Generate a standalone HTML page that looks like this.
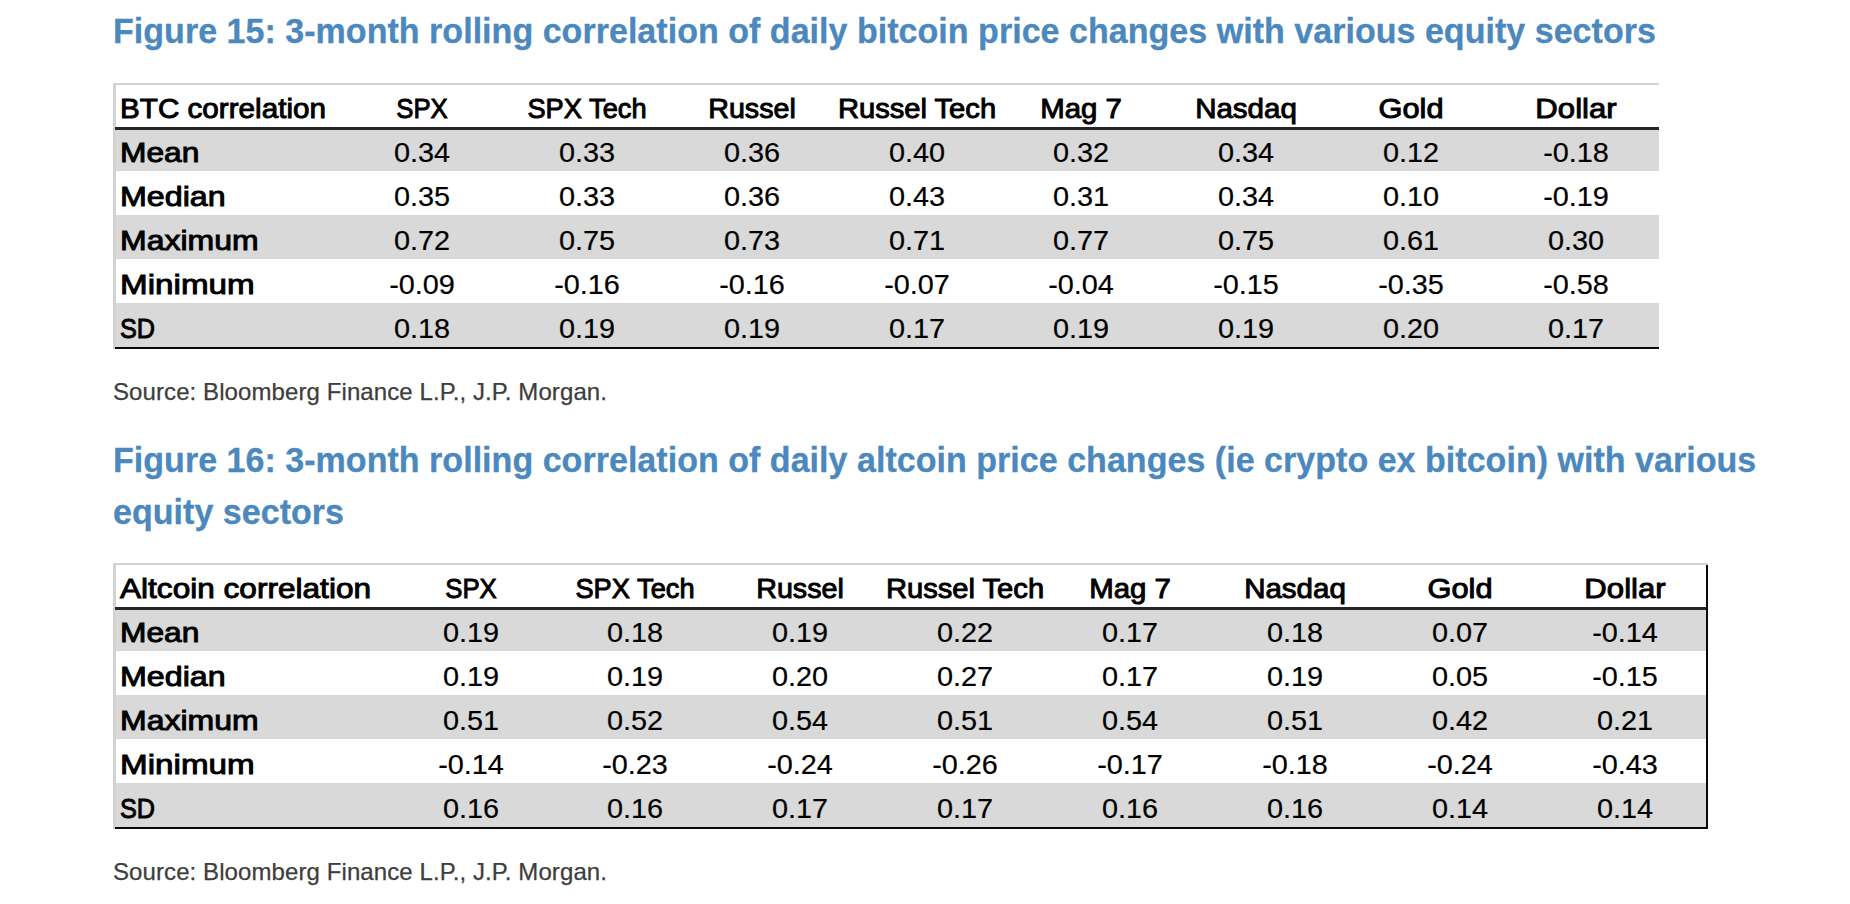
<!DOCTYPE html>
<html><head><meta charset="utf-8"><style>
html,body{margin:0;padding:0;background:#fff;}
body{width:1850px;height:904px;position:relative;overflow:hidden;font-family:"Liberation Sans",sans-serif;}
.h{position:absolute;left:113px;letter-spacing:0.03px;font-weight:bold;font-size:35.5px;transform-origin:0 0;transform:scaleX(0.958);color:#4b88be;white-space:nowrap;-webkit-text-stroke:0.3px #4b88be;}
.s{position:absolute;left:113px;letter-spacing:0.09px;font-size:24px;line-height:24px;color:#3d3d3d;white-space:nowrap;-webkit-text-stroke:0.25px #3d3d3d;}
.f{position:absolute;background:#d9d9d9;}
.lb{position:absolute;background:#d2d2d2;}
.dl{position:absolute;background:#262626;}
.bl{position:absolute;background:#0a0a0a;}
.t{position:absolute;font-size:28px;line-height:28px;color:#000;white-space:nowrap;transform-origin:0 0;}
.t.c{transform-origin:50% 0;}
.r{-webkit-text-stroke:0.2px #000;}
.b{font-weight:normal;-webkit-text-stroke:0.95px #000;}
</style></head><body>
<div class="h" style="top:13.9px;line-height:34px">Figure 15: 3-month rolling correlation of daily bitcoin price changes with various equity sectors</div>
<div class="f" style="left:113px;top:129px;width:1546px;height:41.5px"></div>
<div class="f" style="left:113px;top:215px;width:1546px;height:43.5px"></div>
<div class="f" style="left:113px;top:303px;width:1546px;height:43.5px"></div>
<div class="lb" style="left:113px;top:83px;width:1546px;height:2px"></div>
<div class="lb" style="left:113px;top:83px;width:2.5px;height:266px"></div>
<div class="dl" style="left:115px;top:127px;width:1544px;height:2.5px"></div>
<div class="bl" style="left:115px;top:346.5px;width:1544px;height:2.5px"></div>
<div class="t b" style="left:120.0px;top:95.2px;transform:scaleX(1.059)">BTC correlation</div>
<div class="t b c" style="left:422.0px;top:95.2px;transform:translateX(-50%) scaleX(0.92)">SPX</div>
<div class="t b c" style="left:586.9px;top:95.2px;transform:translateX(-50%) scaleX(0.973)">SPX Tech</div>
<div class="t b c" style="left:751.7px;top:95.2px;transform:translateX(-50%) scaleX(1.023)">Russel</div>
<div class="t b c" style="left:916.5px;top:95.2px;transform:translateX(-50%) scaleX(1.041)">Russel Tech</div>
<div class="t b c" style="left:1081.4px;top:95.2px;transform:translateX(-50%) scaleX(1.05)">Mag 7</div>
<div class="t b c" style="left:1246.2px;top:95.2px;transform:translateX(-50%) scaleX(1.054)">Nasdaq</div>
<div class="t b c" style="left:1411.1px;top:95.2px;transform:translateX(-50%) scaleX(1.1)">Gold</div>
<div class="t b c" style="left:1576.0px;top:95.2px;transform:translateX(-50%) scaleX(1.111)">Dollar</div>
<div class="t b" style="left:120.0px;top:139.2px;transform:scaleX(1.133)">Mean</div>
<div class="t r c" style="left:422.0px;top:139.2px;transform:translateX(-50%) scaleX(1.03)">0.34</div>
<div class="t r c" style="left:586.9px;top:139.2px;transform:translateX(-50%) scaleX(1.03)">0.33</div>
<div class="t r c" style="left:751.7px;top:139.2px;transform:translateX(-50%) scaleX(1.03)">0.36</div>
<div class="t r c" style="left:916.5px;top:139.2px;transform:translateX(-50%) scaleX(1.03)">0.40</div>
<div class="t r c" style="left:1081.4px;top:139.2px;transform:translateX(-50%) scaleX(1.03)">0.32</div>
<div class="t r c" style="left:1246.2px;top:139.2px;transform:translateX(-50%) scaleX(1.03)">0.34</div>
<div class="t r c" style="left:1411.1px;top:139.2px;transform:translateX(-50%) scaleX(1.03)">0.12</div>
<div class="t r c" style="left:1576.0px;top:139.2px;transform:translateX(-50%) scaleX(1.03)">-0.18</div>
<div class="t b" style="left:120.0px;top:183.2px;transform:scaleX(1.151)">Median</div>
<div class="t r c" style="left:422.0px;top:183.2px;transform:translateX(-50%) scaleX(1.03)">0.35</div>
<div class="t r c" style="left:586.9px;top:183.2px;transform:translateX(-50%) scaleX(1.03)">0.33</div>
<div class="t r c" style="left:751.7px;top:183.2px;transform:translateX(-50%) scaleX(1.03)">0.36</div>
<div class="t r c" style="left:916.5px;top:183.2px;transform:translateX(-50%) scaleX(1.03)">0.43</div>
<div class="t r c" style="left:1081.4px;top:183.2px;transform:translateX(-50%) scaleX(1.03)">0.31</div>
<div class="t r c" style="left:1246.2px;top:183.2px;transform:translateX(-50%) scaleX(1.03)">0.34</div>
<div class="t r c" style="left:1411.1px;top:183.2px;transform:translateX(-50%) scaleX(1.03)">0.10</div>
<div class="t r c" style="left:1576.0px;top:183.2px;transform:translateX(-50%) scaleX(1.03)">-0.19</div>
<div class="t b" style="left:120.0px;top:227.2px;transform:scaleX(1.142)">Maximum</div>
<div class="t r c" style="left:422.0px;top:227.2px;transform:translateX(-50%) scaleX(1.03)">0.72</div>
<div class="t r c" style="left:586.9px;top:227.2px;transform:translateX(-50%) scaleX(1.03)">0.75</div>
<div class="t r c" style="left:751.7px;top:227.2px;transform:translateX(-50%) scaleX(1.03)">0.73</div>
<div class="t r c" style="left:916.5px;top:227.2px;transform:translateX(-50%) scaleX(1.03)">0.71</div>
<div class="t r c" style="left:1081.4px;top:227.2px;transform:translateX(-50%) scaleX(1.03)">0.77</div>
<div class="t r c" style="left:1246.2px;top:227.2px;transform:translateX(-50%) scaleX(1.03)">0.75</div>
<div class="t r c" style="left:1411.1px;top:227.2px;transform:translateX(-50%) scaleX(1.03)">0.61</div>
<div class="t r c" style="left:1576.0px;top:227.2px;transform:translateX(-50%) scaleX(1.03)">0.30</div>
<div class="t b" style="left:120.0px;top:271.2px;transform:scaleX(1.186)">Minimum</div>
<div class="t r c" style="left:422.0px;top:271.2px;transform:translateX(-50%) scaleX(1.03)">-0.09</div>
<div class="t r c" style="left:586.9px;top:271.2px;transform:translateX(-50%) scaleX(1.03)">-0.16</div>
<div class="t r c" style="left:751.7px;top:271.2px;transform:translateX(-50%) scaleX(1.03)">-0.16</div>
<div class="t r c" style="left:916.5px;top:271.2px;transform:translateX(-50%) scaleX(1.03)">-0.07</div>
<div class="t r c" style="left:1081.4px;top:271.2px;transform:translateX(-50%) scaleX(1.03)">-0.04</div>
<div class="t r c" style="left:1246.2px;top:271.2px;transform:translateX(-50%) scaleX(1.03)">-0.15</div>
<div class="t r c" style="left:1411.1px;top:271.2px;transform:translateX(-50%) scaleX(1.03)">-0.35</div>
<div class="t r c" style="left:1576.0px;top:271.2px;transform:translateX(-50%) scaleX(1.03)">-0.58</div>
<div class="t b" style="left:120.0px;top:315.2px;transform:scaleX(0.9)">SD</div>
<div class="t r c" style="left:422.0px;top:315.2px;transform:translateX(-50%) scaleX(1.03)">0.18</div>
<div class="t r c" style="left:586.9px;top:315.2px;transform:translateX(-50%) scaleX(1.03)">0.19</div>
<div class="t r c" style="left:751.7px;top:315.2px;transform:translateX(-50%) scaleX(1.03)">0.19</div>
<div class="t r c" style="left:916.5px;top:315.2px;transform:translateX(-50%) scaleX(1.03)">0.17</div>
<div class="t r c" style="left:1081.4px;top:315.2px;transform:translateX(-50%) scaleX(1.03)">0.19</div>
<div class="t r c" style="left:1246.2px;top:315.2px;transform:translateX(-50%) scaleX(1.03)">0.19</div>
<div class="t r c" style="left:1411.1px;top:315.2px;transform:translateX(-50%) scaleX(1.03)">0.20</div>
<div class="t r c" style="left:1576.0px;top:315.2px;transform:translateX(-50%) scaleX(1.03)">0.17</div>
<div class="s" style="top:379.5px">Source: Bloomberg Finance L.P., J.P. Morgan.</div>
<div class="h" style="top:433.6px;line-height:52px">Figure 16: 3-month rolling correlation of daily altcoin price changes (ie crypto ex bitcoin) with various<br>equity sectors</div>
<div class="f" style="left:113px;top:609px;width:1595px;height:41.5px"></div>
<div class="f" style="left:113px;top:695px;width:1595px;height:43.5px"></div>
<div class="f" style="left:113px;top:783px;width:1595px;height:43.5px"></div>
<div class="lb" style="left:113px;top:563px;width:1595px;height:2px"></div>
<div class="lb" style="left:113px;top:563px;width:2.5px;height:266px"></div>
<div class="dl" style="left:115px;top:607px;width:1593px;height:2.5px"></div>
<div class="bl" style="left:115px;top:826.5px;width:1593px;height:2.5px"></div>
<div class="bl" style="left:1705.5px;top:565px;width:2.5px;height:264px"></div>
<div class="t b" style="left:120.0px;top:575.2px;transform:scaleX(1.128)">Altcoin correlation</div>
<div class="t b c" style="left:470.5px;top:575.2px;transform:translateX(-50%) scaleX(0.92)">SPX</div>
<div class="t b c" style="left:635.4px;top:575.2px;transform:translateX(-50%) scaleX(0.973)">SPX Tech</div>
<div class="t b c" style="left:800.2px;top:575.2px;transform:translateX(-50%) scaleX(1.023)">Russel</div>
<div class="t b c" style="left:965.0px;top:575.2px;transform:translateX(-50%) scaleX(1.041)">Russel Tech</div>
<div class="t b c" style="left:1129.9px;top:575.2px;transform:translateX(-50%) scaleX(1.05)">Mag 7</div>
<div class="t b c" style="left:1294.8px;top:575.2px;transform:translateX(-50%) scaleX(1.054)">Nasdaq</div>
<div class="t b c" style="left:1459.6px;top:575.2px;transform:translateX(-50%) scaleX(1.1)">Gold</div>
<div class="t b c" style="left:1624.5px;top:575.2px;transform:translateX(-50%) scaleX(1.111)">Dollar</div>
<div class="t b" style="left:120.0px;top:619.2px;transform:scaleX(1.133)">Mean</div>
<div class="t r c" style="left:470.5px;top:619.2px;transform:translateX(-50%) scaleX(1.03)">0.19</div>
<div class="t r c" style="left:635.4px;top:619.2px;transform:translateX(-50%) scaleX(1.03)">0.18</div>
<div class="t r c" style="left:800.2px;top:619.2px;transform:translateX(-50%) scaleX(1.03)">0.19</div>
<div class="t r c" style="left:965.0px;top:619.2px;transform:translateX(-50%) scaleX(1.03)">0.22</div>
<div class="t r c" style="left:1129.9px;top:619.2px;transform:translateX(-50%) scaleX(1.03)">0.17</div>
<div class="t r c" style="left:1294.8px;top:619.2px;transform:translateX(-50%) scaleX(1.03)">0.18</div>
<div class="t r c" style="left:1459.6px;top:619.2px;transform:translateX(-50%) scaleX(1.03)">0.07</div>
<div class="t r c" style="left:1624.5px;top:619.2px;transform:translateX(-50%) scaleX(1.03)">-0.14</div>
<div class="t b" style="left:120.0px;top:663.2px;transform:scaleX(1.151)">Median</div>
<div class="t r c" style="left:470.5px;top:663.2px;transform:translateX(-50%) scaleX(1.03)">0.19</div>
<div class="t r c" style="left:635.4px;top:663.2px;transform:translateX(-50%) scaleX(1.03)">0.19</div>
<div class="t r c" style="left:800.2px;top:663.2px;transform:translateX(-50%) scaleX(1.03)">0.20</div>
<div class="t r c" style="left:965.0px;top:663.2px;transform:translateX(-50%) scaleX(1.03)">0.27</div>
<div class="t r c" style="left:1129.9px;top:663.2px;transform:translateX(-50%) scaleX(1.03)">0.17</div>
<div class="t r c" style="left:1294.8px;top:663.2px;transform:translateX(-50%) scaleX(1.03)">0.19</div>
<div class="t r c" style="left:1459.6px;top:663.2px;transform:translateX(-50%) scaleX(1.03)">0.05</div>
<div class="t r c" style="left:1624.5px;top:663.2px;transform:translateX(-50%) scaleX(1.03)">-0.15</div>
<div class="t b" style="left:120.0px;top:707.2px;transform:scaleX(1.142)">Maximum</div>
<div class="t r c" style="left:470.5px;top:707.2px;transform:translateX(-50%) scaleX(1.03)">0.51</div>
<div class="t r c" style="left:635.4px;top:707.2px;transform:translateX(-50%) scaleX(1.03)">0.52</div>
<div class="t r c" style="left:800.2px;top:707.2px;transform:translateX(-50%) scaleX(1.03)">0.54</div>
<div class="t r c" style="left:965.0px;top:707.2px;transform:translateX(-50%) scaleX(1.03)">0.51</div>
<div class="t r c" style="left:1129.9px;top:707.2px;transform:translateX(-50%) scaleX(1.03)">0.54</div>
<div class="t r c" style="left:1294.8px;top:707.2px;transform:translateX(-50%) scaleX(1.03)">0.51</div>
<div class="t r c" style="left:1459.6px;top:707.2px;transform:translateX(-50%) scaleX(1.03)">0.42</div>
<div class="t r c" style="left:1624.5px;top:707.2px;transform:translateX(-50%) scaleX(1.03)">0.21</div>
<div class="t b" style="left:120.0px;top:751.2px;transform:scaleX(1.186)">Minimum</div>
<div class="t r c" style="left:470.5px;top:751.2px;transform:translateX(-50%) scaleX(1.03)">-0.14</div>
<div class="t r c" style="left:635.4px;top:751.2px;transform:translateX(-50%) scaleX(1.03)">-0.23</div>
<div class="t r c" style="left:800.2px;top:751.2px;transform:translateX(-50%) scaleX(1.03)">-0.24</div>
<div class="t r c" style="left:965.0px;top:751.2px;transform:translateX(-50%) scaleX(1.03)">-0.26</div>
<div class="t r c" style="left:1129.9px;top:751.2px;transform:translateX(-50%) scaleX(1.03)">-0.17</div>
<div class="t r c" style="left:1294.8px;top:751.2px;transform:translateX(-50%) scaleX(1.03)">-0.18</div>
<div class="t r c" style="left:1459.6px;top:751.2px;transform:translateX(-50%) scaleX(1.03)">-0.24</div>
<div class="t r c" style="left:1624.5px;top:751.2px;transform:translateX(-50%) scaleX(1.03)">-0.43</div>
<div class="t b" style="left:120.0px;top:795.2px;transform:scaleX(0.9)">SD</div>
<div class="t r c" style="left:470.5px;top:795.2px;transform:translateX(-50%) scaleX(1.03)">0.16</div>
<div class="t r c" style="left:635.4px;top:795.2px;transform:translateX(-50%) scaleX(1.03)">0.16</div>
<div class="t r c" style="left:800.2px;top:795.2px;transform:translateX(-50%) scaleX(1.03)">0.17</div>
<div class="t r c" style="left:965.0px;top:795.2px;transform:translateX(-50%) scaleX(1.03)">0.17</div>
<div class="t r c" style="left:1129.9px;top:795.2px;transform:translateX(-50%) scaleX(1.03)">0.16</div>
<div class="t r c" style="left:1294.8px;top:795.2px;transform:translateX(-50%) scaleX(1.03)">0.16</div>
<div class="t r c" style="left:1459.6px;top:795.2px;transform:translateX(-50%) scaleX(1.03)">0.14</div>
<div class="t r c" style="left:1624.5px;top:795.2px;transform:translateX(-50%) scaleX(1.03)">0.14</div>
<div class="s" style="top:859.5px">Source: Bloomberg Finance L.P., J.P. Morgan.</div>
</body></html>
